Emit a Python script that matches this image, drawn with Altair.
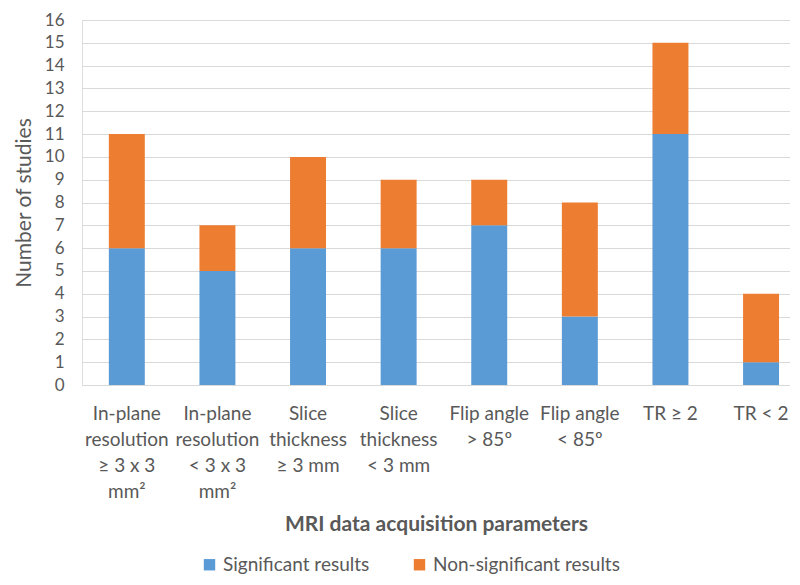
import altair as alt
import pandas as pd

categories = [
    "In-plane|resolution|≥ 3 x 3|mm²",
    "In-plane|resolution|< 3 x 3|mm²",
    "Slice|thickness|≥ 3 mm",
    "Slice|thickness|< 3 mm",
    "Flip angle|> 85º",
    "Flip angle|< 85º",
    "TR ≥ 2",
    "TR < 2",
]
significant = [6, 5, 6, 6, 7, 3, 11, 1]
non_significant = [5, 2, 4, 3, 2, 5, 4, 3]
series = ["Significant results", "Non-significant results"]
colors = ["#5B9BD5", "#ED7D31"]
y_ticks = list(range(0, 17))

rows = []
for c, s, n in zip(categories, significant, non_significant):
    rows.append({"param": c, "series": series[0], "value": s, "ord": 0})
    rows.append({"param": c, "series": series[1], "value": n, "ord": 1})
df = pd.DataFrame(rows)

FONT = "Lato"
GREY = "#595959"

chart = alt.Chart(df).mark_bar().encode(
    x=alt.X("param:N", sort=categories,
            scale=alt.Scale(paddingInner=0.603, paddingOuter=0.2086, align=0.71),
            axis=alt.Axis(title="MRI data acquisition parameters",
                          labelExpr="split(datum.label, '|')",
                          labelAngle=0, labelFontSize=19, labelColor=GREY,
                          labelLineHeight=26, labelPadding=19, labelLimit=200,
                          labelOverlap=False,
                          ticks=False, domain=True, domainColor="#d9d9d9",
                          titleFontSize=21, titleFontWeight="bold", titleColor=GREY,
                          titlePadding=12, labelFont=FONT, titleFont=FONT)),
    y=alt.Y("value:Q", stack="zero",
            scale=alt.Scale(domain=[0, 16], nice=False),
            axis=alt.Axis(title="Number of studies", values=y_ticks,
                          labelOverlap=False, labelFontSize=17, labelColor=GREY,
                          titleFontSize=21, titleFontWeight="normal", titleColor=GREY,
                          domain=False, ticks=False, labelPadding=18, titlePadding=10,
                          gridColor="#d9d9d9", labelFont=FONT, titleFont=FONT)),
    color=alt.Color("series:N", sort=series,
                    scale=alt.Scale(domain=series, range=colors),
                    legend=alt.Legend(title=None, orient="none", direction="horizontal",
                                      legendX=118, legendY=535,
                                      symbolType="square", symbolSize=130,
                                      symbolStrokeWidth=0, labelFontSize=19,
                                      labelLimit=400,
                                      labelColor=GREY, labelFont=FONT,
                                      columnPadding=40)),
    order=alt.Order("ord:Q", sort="ascending"),
).properties(
    width=708, height=365,
    padding={"left": 5, "top": 3, "right": 0, "bottom": 0},
).configure_view(stroke=None).configure(background="white")

chart.save("out.html", embed_options={"renderer": "svg", "actions": False})
